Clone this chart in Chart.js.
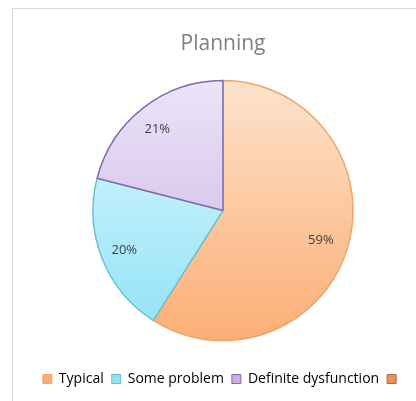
<!DOCTYPE html>
<html>
<head>
<meta charset="utf-8">
<script src="https://cdn.jsdelivr.net/npm/chart.js@4.4.1/dist/chart.umd.min.js"></script>
<style>
  html, body { margin: 0; padding: 0; background: #fff; }
  #wrap { position: relative; width: 416px; height: 401px; overflow: hidden; }
  #frame { position: absolute; left: 12px; top: 8px; width: 420px; height: 420px; border-left: 1px solid #d9d9d9; border-top: 1px solid #d9d9d9; }
  canvas { position: absolute; left: 0; top: 0; }
</style>
</head>
<body>
<div id="wrap">
  <div id="frame"></div>
  <canvas id="chart" width="416" height="401"></canvas>
</div>
<script>
const categories = ['Typical', 'Some problem', 'Definite dysfunction', ''];
const values = [59, 20, 21, 0];
const percentLabels = ['59%', '20%', '21%', ''];

// light (top) / dark (bottom) / border per slice
const topColors = ['#fde3cc', '#dff8fe', '#ece4f7', '#f3c09a'];
const bottomColors = ['#fbae75', '#8fe2f6', '#c7aee3', '#e8935a'];
const borderColors = ['#eda569', '#6fbfcf', '#7d6cae', '#c0652e'];

const sliceFill = (ctx) => {
  const chart = ctx.chart;
  const area = chart.chartArea;
  if (!area) return topColors[ctx.dataIndex];
  const cy = (area.top + area.bottom) / 2;
  const g = chart.ctx.createLinearGradient(0, cy - 130, 0, cy + 130);
  g.addColorStop(0, topColors[ctx.dataIndex]);
  g.addColorStop(1, bottomColors[ctx.dataIndex]);
  return g;
};

// percent labels inside slices
const sliceLabels = {
  id: 'sliceLabels',
  afterDatasetsDraw(chart) {
    const ctx = chart.ctx;
    const meta = chart.getDatasetMeta(0);
    ctx.save();
    ctx.font = '13px "Open Sans"';
    ctx.fillStyle = '#404040';
    ctx.textAlign = 'center';
    ctx.textBaseline = 'middle';
    meta.data.forEach((arc, i) => {
      if (!values[i]) return;
      const mid = (arc.startAngle + arc.endAngle) / 2;
      const r = arc.outerRadius * 0.8;
      ctx.fillText(percentLabels[i], arc.x + Math.cos(mid) * r - 2, arc.y + Math.sin(mid) * r + 1);
    });
    ctx.restore();
  }
};

new Chart(document.getElementById('chart'), {
  type: 'pie',
  data: {
    labels: categories,
    datasets: [{
      data: values,
      backgroundColor: sliceFill,
      borderColor: borderColors,
      borderWidth: [1.5, 1.5, 1.5, 0]
    }]
  },
  options: {
    responsive: false,
    animation: false,
    radius: 130,
    layout: { padding: { top: 20, left: 30, right: 0, bottom: 5 } },
    plugins: {
      tooltip: { enabled: false },
      title: {
        display: true,
        text: 'Planning',
        color: '#7f7f7f',
        font: { family: 'Open Sans', size: 21, weight: 'normal' },
        padding: { top: 11, bottom: 1 }
      },
      legend: {
        position: 'bottom',
        labels: {
          boxWidth: 9,
          boxHeight: 9,
          padding: 8,
          color: '#595959',
          font: { family: 'Open Sans', size: 14 },
          generateLabels: (chart) => categories.map((c, i) => ({
            text: c,
            fillStyle: bottomColors[i],
            strokeStyle: borderColors[i],
            lineWidth: 1,
            hidden: false,
            index: i
          }))
        }
      }
    }
  },
  plugins: [sliceLabels]
});
</script>
</body>
</html>
